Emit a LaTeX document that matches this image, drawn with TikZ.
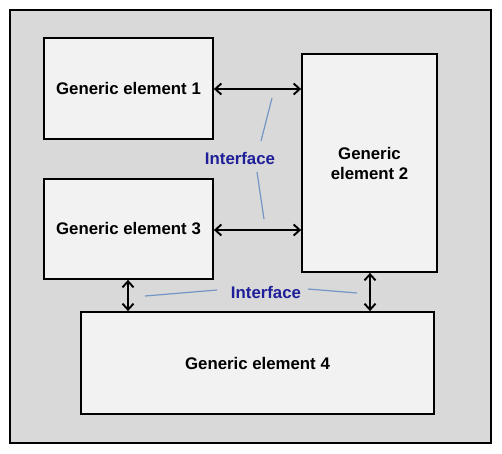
\documentclass[tikz,border=0pt]{standalone}
\usepackage{fontspec}
\setmainfont{Liberation Sans}
\usetikzlibrary{arrows.meta}
\definecolor{outerfill}{HTML}{D9D9D9}
\definecolor{boxfill}{HTML}{F2F2F2}
\definecolor{ifblue}{HTML}{1F1F99}
\definecolor{ifline}{HTML}{7396C4}
\tikzset{
  elem/.style={draw=black, line width=1.8pt, fill=boxfill, inner sep=0pt, align=center,
     font=\fontsize{16.8}{20}\selectfont\bfseries},
  link/.style={line width=1.9pt, {Straight Barb[length=6pt,width=11pt]}-{Straight Barb[length=6pt,width=11pt]}},
  iflabel/.style={font=\fontsize{16.8}{20}\selectfont\bfseries, text=ifblue, inner sep=1pt},
  ifconn/.style={draw=ifline, line width=1.2pt}
}
\begin{document}
\begin{tikzpicture}[x=1pt,y=-1pt]
\useasboundingbox (0,0) rectangle (502,453);
\node[draw=black, line width=1.8pt, fill=outerfill, minimum width=481pt, minimum height=433pt, inner sep=0pt] (frame) at (250.5,226.5) {};
\node[elem, minimum width=169pt, minimum height=101pt] (e1) at (128.5,88.5) {Generic element 1};
\node[elem, minimum width=169pt, minimum height=100pt] (e3) at (128.5,229) {Generic element 3};
\node[elem, minimum width=135pt, minimum height=218pt] (e2) at (369.5,163) {Generic\\element 2};
\node[elem, minimum width=353pt, minimum height=102pt] (e4) at (257.5,363) {Generic element 4};
\draw[link] (e1.east |- 0,89) -- (e2.west |- 0,89);
\draw[link] (e3.east |- 0,230) -- (e2.west |- 0,230);
\draw[link] (128,0 |- e3.south) -- (128,0 |- e4.north);
\draw[link] (370,0 |- e2.south) -- (370,0 |- e4.north);
\node[iflabel] (if1) at (240,158) {Interface};
\node[iflabel] (if2) at (266,292) {Interface};
\coordinate (a1) at (272,98); \coordinate (a2) at (261,141);
\coordinate (b1) at (257,172); \coordinate (b2) at (264,219);
\coordinate (c1) at (145,296); \coordinate (c2) at (217,290);
\coordinate (d1) at (308,289); \coordinate (d2) at (357,293);
\draw[ifconn] (a1) -- (a2);
\draw[ifconn] (b1) -- (b2);
\draw[ifconn] (c1) -- (c2);
\draw[ifconn] (d1) -- (d2);
\end{tikzpicture}
\end{document}
